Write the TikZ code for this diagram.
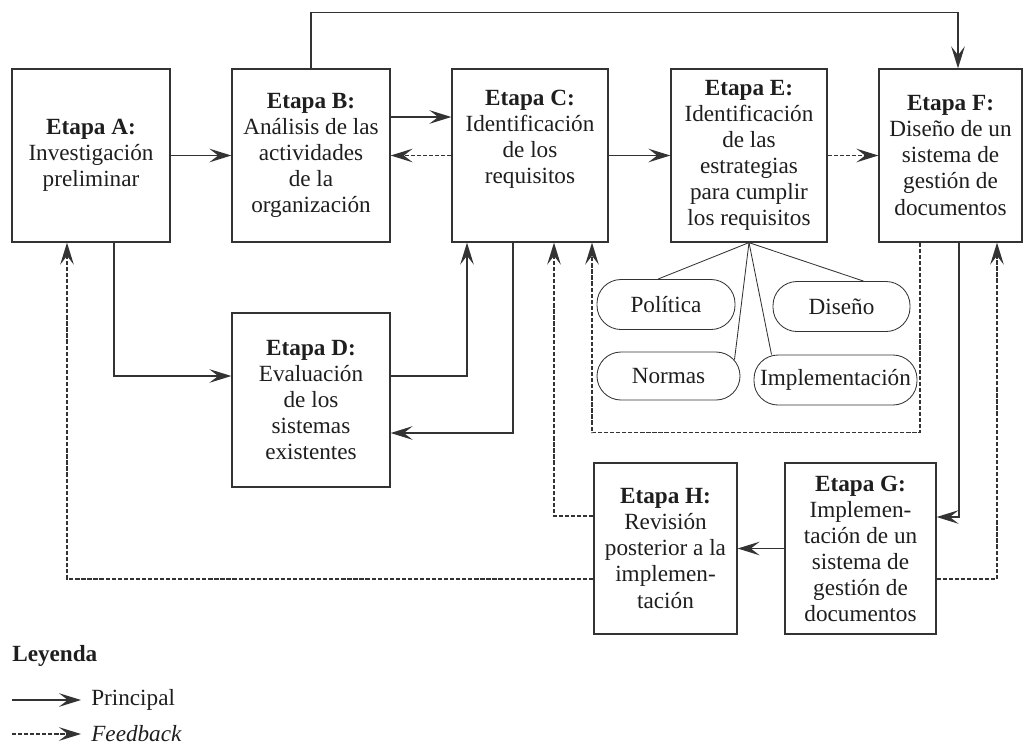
\documentclass[tikz,border=0pt]{standalone}
\usepackage{fontspec}
\setmainfont{Liberation Serif}
\usetikzlibrary{arrows.meta}
\definecolor{linea}{HTML}{333333}
\definecolor{texto}{HTML}{1E1E1E}
\begin{document}
\begin{tikzpicture}[
        etapa/.style={draw=linea, line width=0.9pt, rectangle, minimum width=3.95cm, minimum height=4.325cm, align=center, inner sep=2pt, text=texto, font=\fontsize{16.5}{18.5}\selectfont},
        ovalo/.style={draw=linea, line width=0.6pt, rectangle, rounded corners=0.6cm, minimum height=1.25cm, inner sep=1pt, text=texto, font=\fontsize{16.5}{18.5}\selectfont},
        flecha/.style={draw=linea, line width=0.9pt, -{Stealth[length=5.5mm, width=3.4mm, inset=2.2mm]}},
        retro/.style={flecha, dash pattern=on 3pt off 1.3pt},
        rama/.style={draw=linea, line width=0.6pt}
    ]
        \useasboundingbox (0, 0) rectangle (25.675, -18.725);

        % Etapas
        \node[etapa] (A) at (2.275, -3.8875) {\textbf{Etapa A:}\\Investigación\\preliminar};
        \node[etapa] (B) at (7.775, -3.8875) {\textbf{Etapa B:}\\Análisis de las\\actividades\\de la\\organización};
        \node[etapa, minimum width=3.9cm] (C) at (13.25, -3.8875) {\textbf{Etapa C:}\\Identificación\\de los\\requisitos\\[8pt]\mbox{}};
        \node[etapa, minimum width=3.9cm] (E) at (18.725, -3.8875) {\textbf{Etapa E:}\\Identificación\\de las\\estrategias\\para cumplir\\los requisitos};
        \node[etapa, minimum width=3.575cm] (F) at (23.7625, -3.8875) {\textbf{Etapa F:}\\Diseño de un\\sistema de\\gestión de\\documentos};
        \node[etapa, minimum height=4.35cm] (D) at (7.775, -10.0) {\textbf{Etapa D:}\\Evaluación\\de los\\sistemas\\existentes};
        \node[etapa, minimum width=3.575cm, minimum height=4.275cm] (H) at (16.6375, -13.7125) {\textbf{Etapa H:}\\Revisión\\posterior a la\\implemen-\\tación};
        \node[etapa, minimum width=3.775cm, minimum height=4.275cm] (G) at (21.5125, -13.7125) {\textbf{Etapa G:}\\Implemen-\\tación de un\\sistema de\\gestión de\\documentos};

        % Estrategias
        \node[ovalo, minimum width=3.45cm] (pol) at (16.65, -7.6125) {Política};
        \node[ovalo, minimum width=3.425cm] (dis) at (21.0375, -7.6625) {Diseño};
        \node[ovalo, minimum width=3.575cm, minimum height=1.2cm] (nor) at (16.7125, -9.4) {Normas};
        \node[ovalo, minimum width=4.075cm] (imp) at (20.8875, -9.5) {Implementación};

        \draw[rama] (E.south) -- ([xshift=-0.2cm]pol.north);
        \draw[rama] (E.south) -- ([xshift=0.55cm]dis.north);
        \draw[rama] (E.south) -- ([xshift=1.65cm, yshift=-0.2cm]nor.north);
        \draw[rama] (E.south) -- ([xshift=-1.6cm]imp.north);

        % Flechas principales
        \draw[flecha] (A.east) -- (B.west);
        \draw[flecha] ([yshift=0.9625cm]B.east) -- ([yshift=0.9625cm]C.west);
        \draw[flecha] (C.east) -- (E.west);
        \draw[flecha] (B.north) -- ++(0, 1.4) -| ([xshift=0.1875cm]F.north);
        \draw[flecha] ([xshift=0.575cm]A.south) |- ([yshift=0.6cm]D.west);
        \draw[flecha] ([yshift=0.6cm]D.east) -| ([xshift=-1.575cm]C.south);
        \draw[flecha] ([xshift=-0.425cm]C.south) |- ([yshift=-0.825cm]D.east);
        \draw[flecha] ([xshift=0.2125cm]F.south) |- ([yshift=0.7875cm]G.east);
        \draw[flecha] (G.west) -- (H.east);

        % Feedback
        \draw[retro] (C.west) -- (B.east);
        \draw[retro] (E.east) -- (F.west);
        \draw[retro] ([xshift=-0.7625cm]F.south) -- ++(0, -4.75) -| ([xshift=1.55cm]C.south);
        \draw[retro] ([yshift=0.8125cm]H.west) -| ([xshift=0.6cm]C.south);
        \draw[retro] ([yshift=-0.7625cm]H.west) -| ([xshift=-0.6cm]A.south);
        \draw[retro] ([yshift=-0.7625cm]G.east) -| ([xshift=1.1625cm]F.south);

        % Leyenda
        \node[anchor=west, inner sep=0pt, text=texto, font=\fontsize{16.5}{18.5}\selectfont\bfseries] (ley) at (0.3, -16.4) {Leyenda};
        \node[anchor=west, inner sep=0pt, text=texto, font=\fontsize{16.5}{18.5}\selectfont] (lprin) at (2.275, -17.5) {Principal};
        \node[anchor=west, inner sep=0pt, text=texto, font=\fontsize{16.5}{18.5}\selectfont\itshape] (lfeed) at (2.275, -18.35) {Feedback};
        \coordinate (lp) at (0.3, -17.5);
        \coordinate (lf) at (0.3, -18.35);
        \draw[flecha] (lp) -- ([xshift=-0.25cm]lprin.west);
        \draw[retro] (lf) -- ([xshift=-0.25cm]lfeed.west);

    \end{tikzpicture}
\end{document}
